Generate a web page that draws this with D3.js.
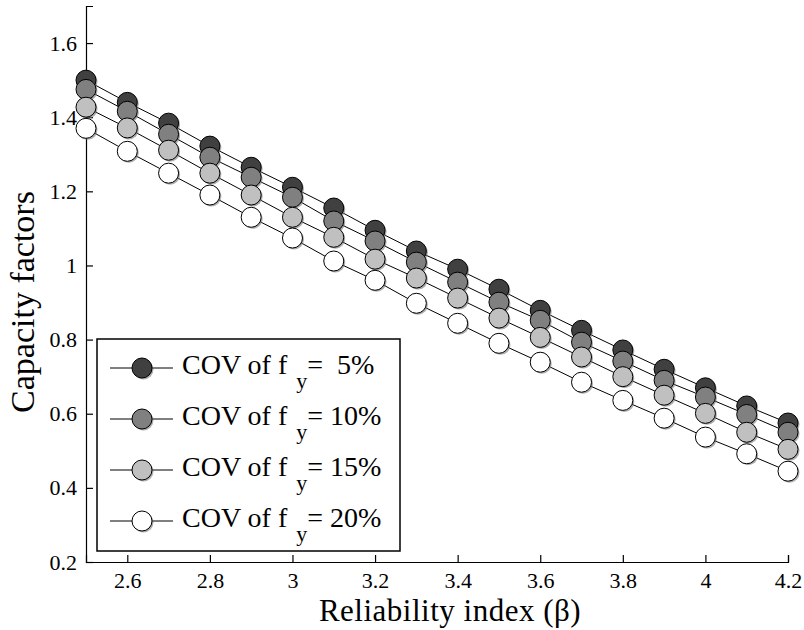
<!DOCTYPE html>
<meta charset="utf-8">
<style>
body { margin: 0; background: #fff; }
svg { display: block; }
text { font-family: 'Liberation Serif', 'Times New Roman', serif; fill: #000; }
.axis path, .axis line { stroke: #000; stroke-width: 1.2px; }
</style>
<svg width="804" height="630"></svg>
<script src="https://d3js.org/d3.v7.min.js"></script>
<script>

var beta = [2.5, 2.6, 2.7, 2.8, 2.9, 3.0, 3.1, 3.2, 3.3, 3.4, 3.5, 3.6, 3.7, 3.8, 3.9, 4.0, 4.1, 4.2];

var cov5  = [1.500, 1.440, 1.384, 1.322, 1.265, 1.211, 1.155, 1.095, 1.039, 0.990, 0.936, 0.879, 0.825, 0.772, 0.720, 0.670, 0.621, 0.575];
var cov10 = [1.475, 1.416, 1.354, 1.292, 1.238, 1.184, 1.120, 1.066, 1.009, 0.955, 0.901, 0.852, 0.793, 0.742, 0.690, 0.645, 0.598, 0.550];
var cov15 = [1.427, 1.371, 1.311, 1.249, 1.190, 1.130, 1.076, 1.017, 0.966, 0.912, 0.858, 0.806, 0.753, 0.700, 0.650, 0.601, 0.550, 0.504];
var cov20 = [1.370, 1.308, 1.249, 1.190, 1.130, 1.074, 1.012, 0.960, 0.898, 0.844, 0.790, 0.739, 0.685, 0.636, 0.588, 0.537, 0.492, 0.445];

var seriesNames = ["5%", "10%", "15%", "20%"];
var fills = ["#404040", "#808080", "#c0c0c0", "#ffffff"];

var xTicks = [2.6, 2.8, 3.0, 3.2, 3.4, 3.6, 3.8, 4.0, 4.2];
var yTicks = [0.2, 0.4, 0.6, 0.8, 1.0, 1.2, 1.4, 1.6];

var serif = "'Liberation Serif', 'Times New Roman', serif";

var svg = d3.select("svg");

var x = d3.scaleLinear().domain([2.5, 4.2]).range([86, 788]);
var y = d3.scaleLinear().domain([0.2, 1.7]).range([562, 6]);

var fmt = function(d) { return String(+d.toFixed(1)); };

svg.append("g")
    .attr("class", "axis")
    .attr("transform", "translate(0,562)")
    .call(d3.axisBottom(x).tickValues(xTicks).tickFormat(fmt).tickSizeInner(-7).tickSizeOuter(-7).tickPadding(10));

svg.append("g")
    .attr("class", "axis")
    .attr("transform", "translate(86,0)")
    .call(d3.axisLeft(y).tickValues(yTicks).tickFormat(fmt).tickSizeInner(-7).tickSizeOuter(-7).tickPadding(9));

svg.selectAll(".axis").attr("font-family", null).attr("font-size", null);
svg.selectAll(".axis text").style("font-family", serif).style("font-size", "22px");
svg.selectAll(".axis .domain").attr("fill", "none");

svg.append("text")
    .attr("text-anchor", "middle")
    .attr("x", 450)
    .attr("y", 621)
    .style("font-family", serif)
    .style("font-size", "31px")
    .style("letter-spacing", "0.5px")
    .text("Reliability index (\u03b2)");

svg.append("text")
    .attr("text-anchor", "middle")
    .attr("transform", "translate(34,302) rotate(-90)")
    .style("font-family", serif)
    .style("font-size", "34px")
    .text("Capacity factors");

var data = [cov5, cov10, cov15, cov20];

var line = d3.line()
    .x(function(d, i) { return x(beta[i]); })
    .y(function(d) { return y(d); });

data.forEach(function(vals, k) {
  var g = svg.append("g");
  g.append("path")
      .attr("d", line(vals))
      .attr("fill", "none")
      .attr("stroke", "#000")
      .attr("stroke-width", 1);
  g.selectAll(".shadow")
    .data(vals)
    .enter().append("circle")
      .attr("cx", function(d, i) { return x(beta[i]) + 1.5; })
      .attr("cy", function(d) { return y(d) + 1.5; })
      .attr("r", 10)
      .attr("fill", "#777")
      .attr("opacity", 0.6);
  g.selectAll(".dot")
    .data(vals)
    .enter().append("circle")
      .attr("cx", function(d, i) { return x(beta[i]); })
      .attr("cy", function(d) { return y(d); })
      .attr("r", 10)
      .attr("fill", fills[k])
      .attr("stroke", "#000")
      .attr("stroke-width", 1);
});

// legend
var legend = svg.append("g");
legend.append("rect")
    .attr("x", 97).attr("y", 339)
    .attr("width", 303).attr("height", 212)
    .attr("fill", "#fff")
    .attr("stroke", "#000")
    .attr("stroke-width", 1.5);

seriesNames.forEach(function(name, k) {
  var cy = 368 + k * 51;
  legend.append("line")
      .attr("x1", 110).attr("x2", 173)
      .attr("y1", cy).attr("y2", cy)
      .attr("stroke", "#000");
  legend.append("circle")
      .attr("cx", 143.5).attr("cy", cy + 1.5).attr("r", 10)
      .attr("fill", "#777").attr("opacity", 0.6);
  legend.append("circle")
      .attr("cx", 142).attr("cy", cy).attr("r", 10)
      .attr("fill", fills[k]).attr("stroke", "#000");
  var t = legend.append("text")
      .attr("x", 182)
      .attr("y", cy + 6)
      .style("font-family", serif)
      .style("font-size", "28px")
      .attr("xml:space", "preserve");
  t.append("tspan").text("COV of f");
  t.append("tspan").attr("dx", 9).attr("dy", 14).style("font-size", "22px").text("y");
  t.append("tspan").attr("dy", -14).text(name.length < 3 ? "=\u00a0\u00a0" + name : "=\u00a0" + name);
});

</script>
